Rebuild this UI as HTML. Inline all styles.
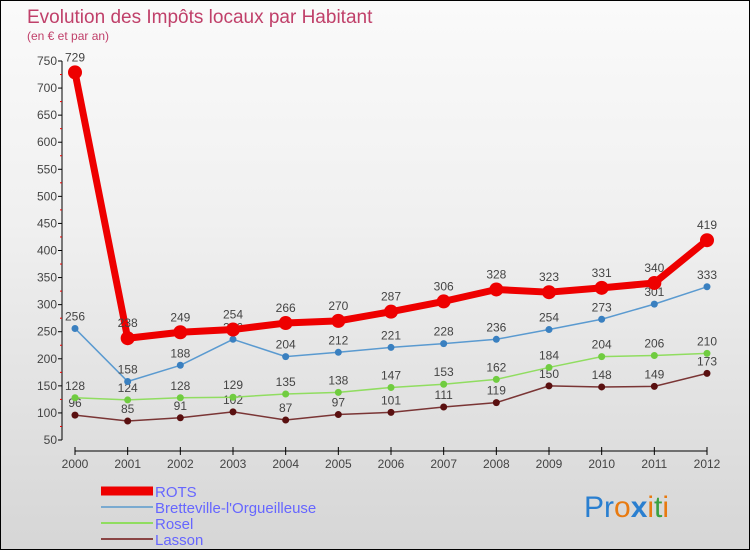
<!DOCTYPE html>
<html><head><meta charset="utf-8"><style>
body{margin:0}
#wrap{width:748px;height:548px;border:1px solid #000;background:linear-gradient(#fafafa,#f0f0f0 40%,#d6d6d6);position:relative;overflow:hidden;font-family:"Liberation Sans",sans-serif}
svg text{font-family:"Liberation Sans",sans-serif}
</style></head><body>
<div id="wrap">
<svg id="chart" width="748" height="548">
<text x="26" y="22" font-size="19" fill="#c0406a">Evolution des Impôts locaux par Habitant</text>
<text x="26" y="39" font-size="12" fill="#c0406a">(en € et par an)</text>
<g id="axes"></g><g id="series"></g><g id="legend"></g>
<text x="583" y="516" font-size="30"><tspan fill="#2a7fd0">Pr</tspan><tspan fill="#e87a10">o</tspan><tspan fill="#2a7fd0" font-weight="bold">x</tspan><tspan fill="#e87a10">i</tspan><tspan fill="#3aa040">t</tspan><tspan fill="#e87a10">i</tspan></text>
</svg></div>
<script>
const years=[2000,2001,2002,2003,2004,2005,2006,2007,2008,2009,2010,2011,2012];
const rots=[729,238,249,254,266,270,287,306,328,323,331,340,419];
const bretteville=[256,158,188,236,204,212,221,228,236,254,273,301,333];
const rosel=[128,124,128,129,135,138,147,153,162,184,204,206,210];
const lasson=[96,85,91,102,87,97,101,111,119,150,148,149,173];
const yTicks=[50,100,150,200,250,300,350,400,450,500,550,600,650,700,750];
const seriesNames=["ROTS","Bretteville-l'Orgueilleuse","Rosel","Lasson"];
const NS="http://www.w3.org/2000/svg";
function x(i){return 74+(706-74)*i/(years.length-1);}
function y(v){return 439-(v-50)*(379/700);}
function mk(tag,attrs,parent){const e=document.createElementNS(NS,tag);for(const k in attrs)e.setAttribute(k,attrs[k]);parent.appendChild(e);return e;}
const axes=document.getElementById('axes');
let a=mk('line',{x1:61,y1:y(750),x2:61,y2:y(50),stroke:'#000'},axes);


yTicks.forEach(t=>{
 let l=mk('line',{x1:57,x2:61,y1:y(t),y2:y(t),stroke:'#000'},axes);
 
 
 if(t<750){
 let m=mk('line',{x1:59,x2:61,y1:y(t+25),y2:y(t+25),stroke:'#e00'},axes);
 
 
 }
 let tx=mk('text',{x:56,y:y(t)+4,'font-size':12,fill:'#444','text-anchor':'end'},axes);tx.textContent=t;
 
 
});
let xa=mk('line',{x1:x(0),x2:x(12),y1:450,y2:450,stroke:'#000'},axes);


years.forEach((yr,i)=>{
 let l=mk('line',{x1:x(i),x2:x(i),y1:446,y2:454,stroke:'#000'},axes);
 
 
 let tx=mk('text',{x:x(i),y:467,'font-size':12,fill:'#444','text-anchor':'middle'},axes);tx.textContent=yr;
 
 
});
const sg=document.getElementById('series');
const defs=[[lasson,'#7a3535','#5a1010',1.5,3.5],[rosel,'#90dd60','#70cc40',1.5,3.5],[bretteville,'#5a9ad0','#3a80c0',1.5,3.5],[rots,'#ee0000','#ee0000',7,7]];
const names=['lasson','rosel','bretteville','rots'];
defs.forEach(([d,c,pc,w,r],k)=>{
 let p=mk('polyline',{points:d.map((v,i)=>x(i)+','+y(v)).join(' '),fill:'none',stroke:c,'stroke-width':w,'stroke-linejoin':'round'},sg);
 
 
 d.forEach((v,i)=>{
  let c2=mk('circle',{cx:x(i),cy:y(v),r:r,fill:pc},sg);
  
  
  let t=mk('text',{x:x(i),y:y(v)-(k==3?11:8),'font-size':12,fill:'#444','text-anchor':'middle'},sg);t.textContent=v;
  
  
 });
});
const lg=document.getElementById('legend');
const lcol=['#ee0000','#7aaad0','#90dd60','#8a4545'],lw=[9,2,2,2];
seriesNames.forEach((n,i)=>{
 const yy=490+i*16;
 let l=mk('line',{x1:100,x2:152,y1:yy,y2:yy,stroke:lcol[i],'stroke-width':lw[i]},lg);
 
 
 let t=mk('text',{x:154,y:yy+6,'font-size':15,fill:'#6666ff'},lg);t.textContent=n;
 
 
});
</script>
</body></html>
